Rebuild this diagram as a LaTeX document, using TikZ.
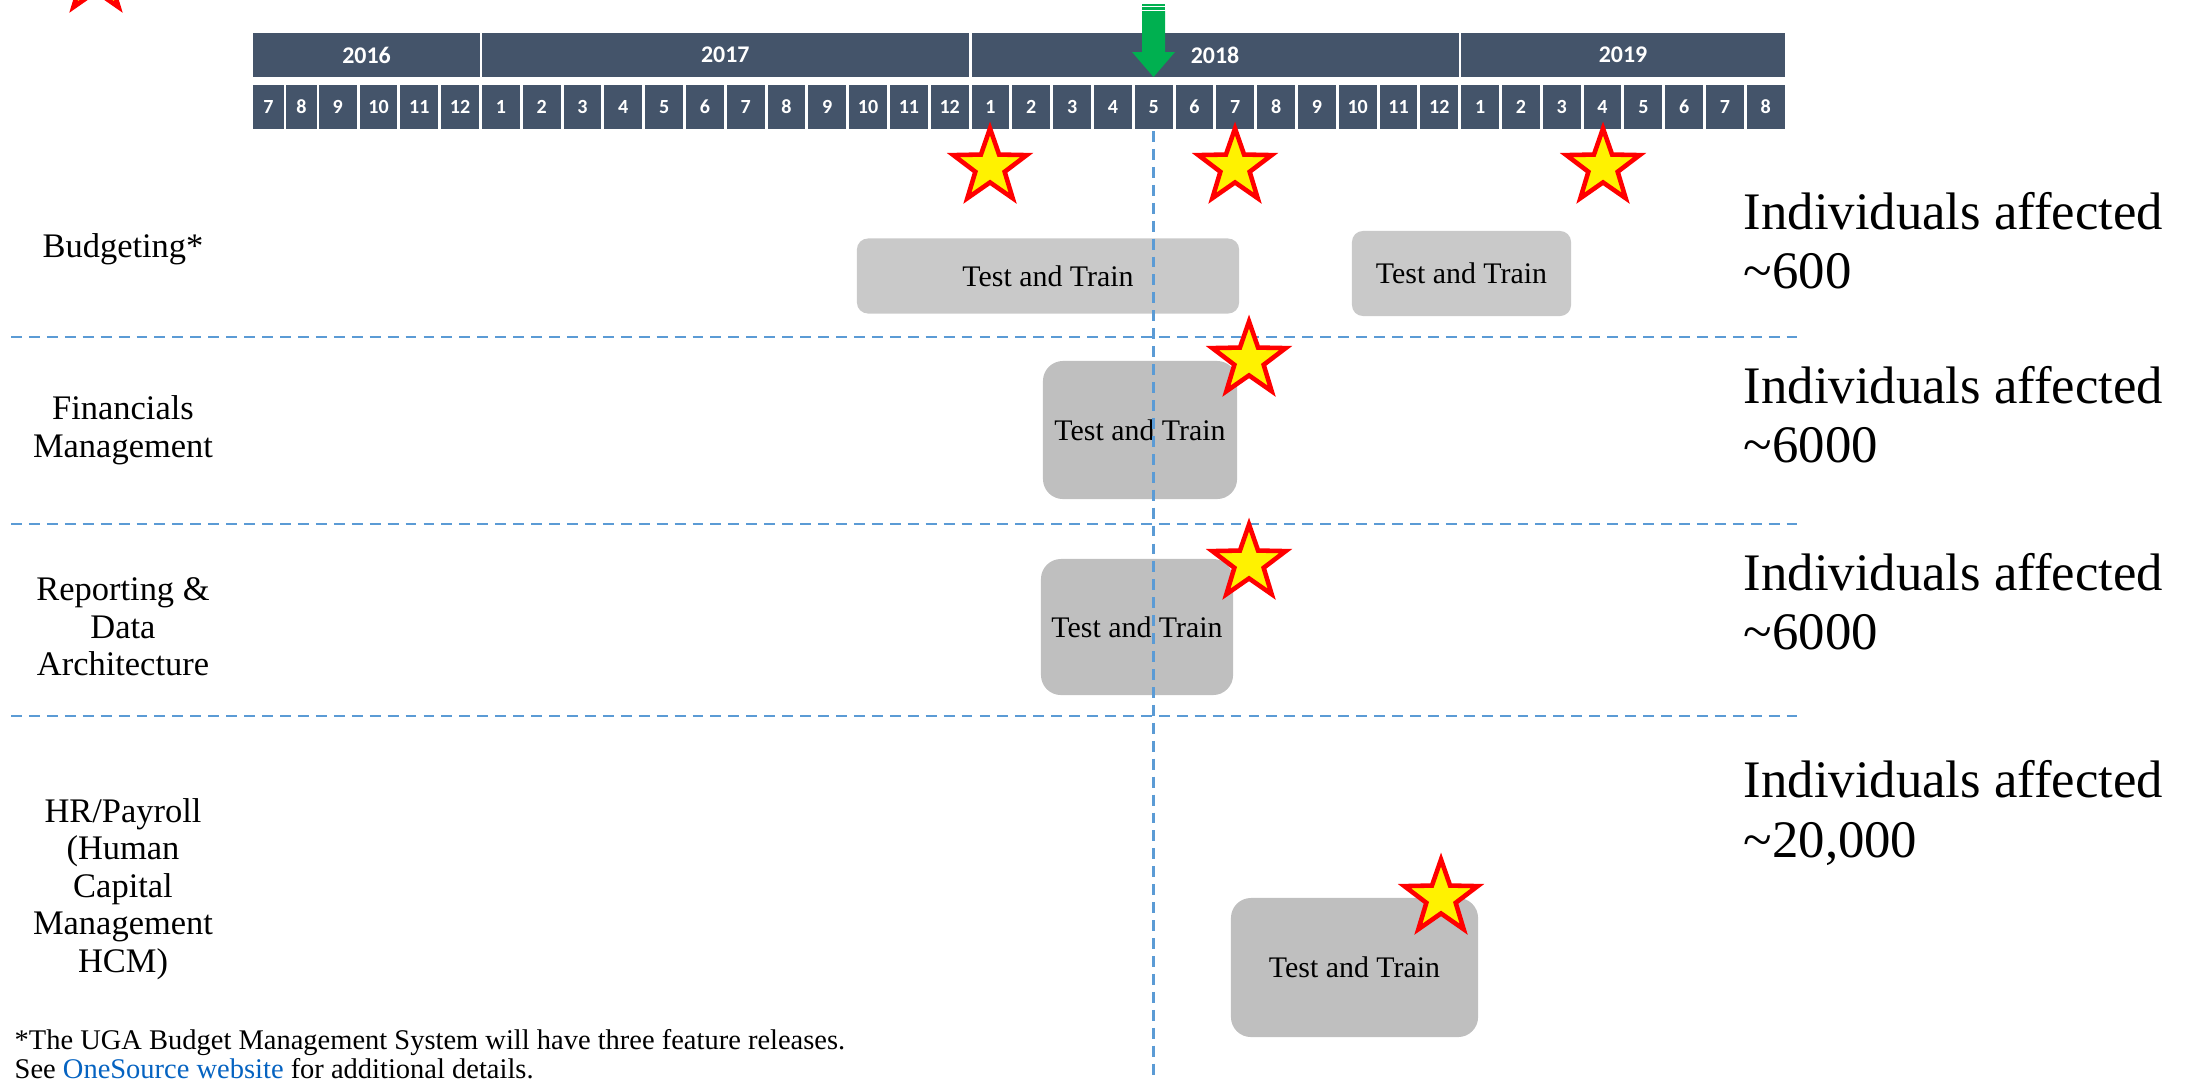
\documentclass[tikz,border=0pt]{standalone}
\usepackage{fontspec}
\setmainfont{Liberation Serif}
\newfontfamily\carlito{Carlito}
\usetikzlibrary{shapes.geometric}
\definecolor{kopf}{HTML}{44546A}
\definecolor{strich}{HTML}{5B9BD5}
\definecolor{hellgrau}{HTML}{C9C9C9}
\definecolor{dunkelgrau}{HTML}{BFBFBF}
\definecolor{pfeilgruen}{HTML}{00B050}
\definecolor{linkblau}{HTML}{0563C1}

\begin{document}
\begin{tikzpicture}[x=0.01cm, y=-0.01cm,
    jahr/.style={fill=kopf, text=white, inner sep=0, minimum height=0.44cm, font=\carlito\bfseries\fontsize{6.8}{8}\selectfont},
    monat/.style={fill=kopf, text=white, inner sep=0, minimum width=0.378cm, minimum height=0.44cm, font=\carlito\bfseries\fontsize{5.7}{7}\selectfont},
    trenn/.style={strich, line width=0.8pt, dash pattern=on 3.1pt off 2pt},
    kastenA/.style={fill=hellgrau, rounded corners=0.11cm, inner sep=0, font=\fontsize{8.5}{10}\selectfont},
    kastenB/.style={fill=dunkelgrau, rounded corners=0.2cm, inner sep=0, font=\fontsize{8.5}{10}\selectfont},
    stern/.style={star, star points=5, star point ratio=2.5, minimum size=0.77cm, inner sep=0, fill=yellow, draw=red, line width=1.3pt},
    zeile/.style={align=center, font=\fontsize{9.8}{10.7}\selectfont},
    anzahl/.style={anchor=west, align=left, inner sep=0, font=\fontsize{15}{16.8}\selectfont}]
    \clip (0,0) rectangle (2192,1081);
    % Jahre
    \node[jahr, minimum width=2.27cm] (j2016) at (366.5,55) {2016};
    \node[jahr, minimum width=4.867cm] (j2017) at (725.3,55) {2017};
    \node[jahr, minimum width=4.867cm] (j2018) at (1215,55) {2018};
    \node[jahr, minimum width=3.235cm] (j2019) at (1623,55) {2019};
    % Monate
    \node[monat, minimum width=0.31cm] (m16-7) at (268.5,107) {7};
    \node[monat, minimum width=0.31cm] (m16-8) at (301.5,107) {8};
    \foreach \m [count=\i from -4] in {9,...,12}
        \node[monat] (m16-\m) at ({482+40.8*\i+18.9},107) {\m};
    \foreach \m in {1,...,12}
        \node[monat] (m17-\m) at ({482+40.8*(\m-1)+18.9},107) {\m};
    \foreach \m in {1,...,12}
        \node[monat] (m18-\m) at ({482+40.8*(\m+11)+18.9},107) {\m};
    \foreach \m in {1,...,8}
        \node[monat] (m19-\m) at ({482+40.8*(\m+23)+18.9},107) {\m};
    % Trennlinien
    \draw[trenn] (11,337) -- (1803,337);
    \draw[trenn] (11,524) -- (1803,524);
    \draw[trenn] (11,716) -- (1803,716);
    % Zeilen
    \node[zeile] (l-bud) at (123,249) {Budgeting*};
    \node[zeile] (l-fin) at (123,430) {Financials\\Management};
    \node[zeile] (l-rep) at (123,627) {Reporting \&\\Data\\Architecture};
    \node[zeile] (l-hcm) at (123,889) {HR/Payroll\\(Human\\Capital\\Management\\HCM)};
    % Test and Train
    \node[kastenA, minimum width=3.82cm, minimum height=0.75cm] (bud1) at (1048,276) {Test and Train};
    \node[kastenA, minimum width=2.19cm, minimum height=0.85cm] (bud2) at (1461.5,273.5) {Test and Train};
    \node[kastenB, minimum width=1.94cm, minimum height=1.38cm] (fin) at (1140,430) {Test and Train};
    \node[kastenB, minimum width=1.92cm, minimum height=1.36cm] (rep) at (1137,627) {Test and Train};
    \node[kastenB, minimum width=2.47cm, minimum height=1.39cm] (hcm) at (1354.5,967.5) {Test and Train};
    % heute
    \draw[trenn] (1153.5,131) -- (1153.5,1081);
    \fill[pfeilgruen] (1142,11) -- (1165,11) -- (1165,52) -- (1175,52) -- (1153.5,77) -- (1132,52) -- (1142,52) -- cycle;
    \fill[pfeilgruen] (1142,4) rectangle (1165,5.5);
    \fill[pfeilgruen] (1142,7) rectangle (1165,9.5);
    % Sterne
    \node[stern] (s0) at (96,-24) {};
    \node[stern] (s1) at (990,167) {};
    \node[stern] (s2) at (1235,167) {};
    \node[stern] (s3) at (1603,167) {};
    \node[stern] (s4) at (1249,360) {};
    \node[stern] (s5) at (1249,563) {};
    \node[stern] (s6) at (1441,898) {};
    % Betroffene
    \node[anzahl] (n-bud) at (1743,240.5) {Individuals affected\\\textasciitilde600};
    \node[anzahl] (n-fin) at (1743,415) {Individuals affected\\\textasciitilde6000};
    \node[anzahl] (n-rep) at (1743,602) {Individuals affected\\\textasciitilde6000};
    \node[anzahl] (n-hcm) at (1743,813) {Individuals affected\\\textasciitilde20,000};
    % Fussnote
    \node[anchor=west, align=left, inner sep=0, font=\fontsize{8.1}{8.3}\selectfont] (fuss) at (14,1054) {*The UGA Budget Management System will have three feature releases.\\See \textcolor{linkblau}{OneSource website} for additional details.};
\end{tikzpicture}
\end{document}
